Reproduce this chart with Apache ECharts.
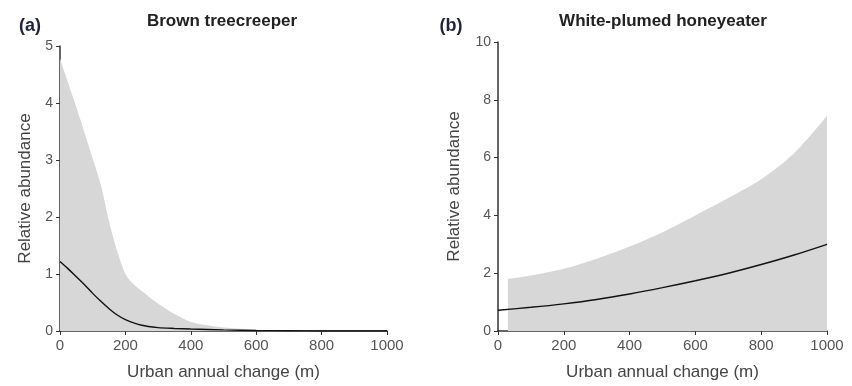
<!DOCTYPE html>
<html>
<head>
<meta charset="utf-8">
<script src="https://cdn.jsdelivr.net/npm/echarts@6/dist/echarts.min.js"></script>
<style>
html,body{margin:0;padding:0;background:#fff;}
#c{width:852px;height:386px;}
</style>
</head>
<body>
<div id="c"></div>
<script>
// Panel (a): Brown treecreeper
const aBandX = [0, 25, 50, 75, 100, 125, 150, 175, 200, 225, 250, 300, 350, 400, 450, 500, 550, 600, 650, 700];
const aBandUpper = [4.78, 4.35, 3.92, 3.48, 3.02, 2.56, 1.92, 1.4, 1.0, 0.82, 0.7, 0.48, 0.3, 0.16, 0.1, 0.06, 0.04, 0.02, 0.01, 0];
const aLineX = [0, 25, 50, 75, 100, 125, 150, 175, 200, 250, 300, 350, 400, 500, 600, 700, 800, 1000];
const aLineY = [1.22, 1.09, 0.95, 0.81, 0.66, 0.52, 0.39, 0.28, 0.2, 0.1, 0.06, 0.045, 0.035, 0.02, 0.01, 0.005, 0, 0];
// Panel (b): White-plumed honeyeater
const bBandX = [30, 100, 200, 300, 400, 500, 600, 700, 800, 900, 1000];
const bBandUpper = [1.8, 1.92, 2.15, 2.5, 2.92, 3.42, 4.0, 4.6, 5.25, 6.15, 7.45];
const bLineX = [0, 100, 200, 300, 400, 500, 600, 700, 800, 900, 1000];
const bLineY = [0.72, 0.82, 0.94, 1.09, 1.28, 1.5, 1.74, 2.0, 2.3, 2.63, 3.0];

const titles = ['Brown treecreeper', 'White-plumed honeyeater'];
const panelLabels = ['(a)', '(b)'];
const xName = 'Urban annual change (m)';
const yName = 'Relative abundance';

const pair = (xs, ys) => xs.map((x, i) => [x, ys[i]]);
const FONT = '"Liberation Sans", Arial, sans-serif';
const fill = '#d7d7d7';

function xAxis(gi) {
  return {
    gridIndex: gi, type: 'value', min: 0, max: 1000, interval: 200,
    name: xName, nameLocation: 'middle', nameGap: 33,
    nameTextStyle: { fontFamily: FONT, fontSize: 17, color: '#444' },
    axisLine: { lineStyle: { color: '#333', width: 1.5 } },
    axisTick: { show: true, length: 4, lineStyle: { color: '#333' } },
    axisLabel: { fontFamily: FONT, fontSize: 15, color: '#555', margin: 7, formatter: v => String(v) },
    splitLine: { show: false }
  };
}
function yAxis(gi, max, interval, gap) {
  return {
    gridIndex: gi, type: 'value', min: 0, max: max, interval: interval,
    name: yName, nameLocation: 'middle', nameGap: gap,
    nameTextStyle: { fontFamily: FONT, fontSize: 17, color: '#444' },
    axisLine: { show: true, lineStyle: { color: '#333', width: 1.5 } },
    axisTick: { show: true, length: 4, lineStyle: { color: '#333' } },
    axisLabel: { fontFamily: FONT, fontSize: 14, color: '#555', margin: 7 },
    splitLine: { show: false }
  };
}
function band(gi, data) {
  return {
    type: 'line', xAxisIndex: gi, yAxisIndex: gi, data: data, smooth: 0.3,
    symbol: 'none', lineStyle: { width: 0 }, areaStyle: { color: fill, opacity: 1 },
    silent: true, z: 1
  };
}
function curve(gi, data) {
  return {
    type: 'line', xAxisIndex: gi, yAxisIndex: gi, data: data, smooth: 0.3,
    symbol: 'none', lineStyle: { color: '#111', width: 1.4 }, z: 3
  };
}

const chart = echarts.init(document.getElementById('c'), null, { renderer: 'canvas' });
chart.setOption({
  backgroundColor: '#fff',
  animation: false,
  grid: [
    { left: 60, right: 465, top: 46, bottom: 53 },
    { left: 498, right: 25, top: 42, bottom: 53 }
  ],
  xAxis: [xAxis(0), xAxis(1)],
  yAxis: [yAxis(0, 5, 1, 26), yAxis(1, 10, 2, 35)],
  series: [
    band(0, pair(aBandX, aBandUpper)),
    curve(0, pair(aLineX, aLineY)),
    band(1, pair(bBandX, bBandUpper)),
    curve(1, pair(bLineX, bLineY))
  ],
  graphic: [
    { type: 'text', x: 222, y: 21, style: { text: titles[0], fontFamily: FONT, fontSize: 17, fontWeight: 'bold', fill: '#222', textAlign: 'center', textVerticalAlign: 'middle' } },
    { type: 'text', x: 663, y: 21, style: { text: titles[1], fontFamily: FONT, fontSize: 17, fontWeight: 'bold', fill: '#222', textAlign: 'center', textVerticalAlign: 'middle' } },
    { type: 'text', x: 30, y: 26, style: { text: panelLabels[0], fontFamily: FONT, fontSize: 18, fontWeight: 'bold', fill: '#1e2440', textAlign: 'center', textVerticalAlign: 'middle' } },
    { type: 'text', x: 451, y: 26, style: { text: panelLabels[1], fontFamily: FONT, fontSize: 18, fontWeight: 'bold', fill: '#1e2440', textAlign: 'center', textVerticalAlign: 'middle' } }
  ]
});
</script>
</body>
</html>
